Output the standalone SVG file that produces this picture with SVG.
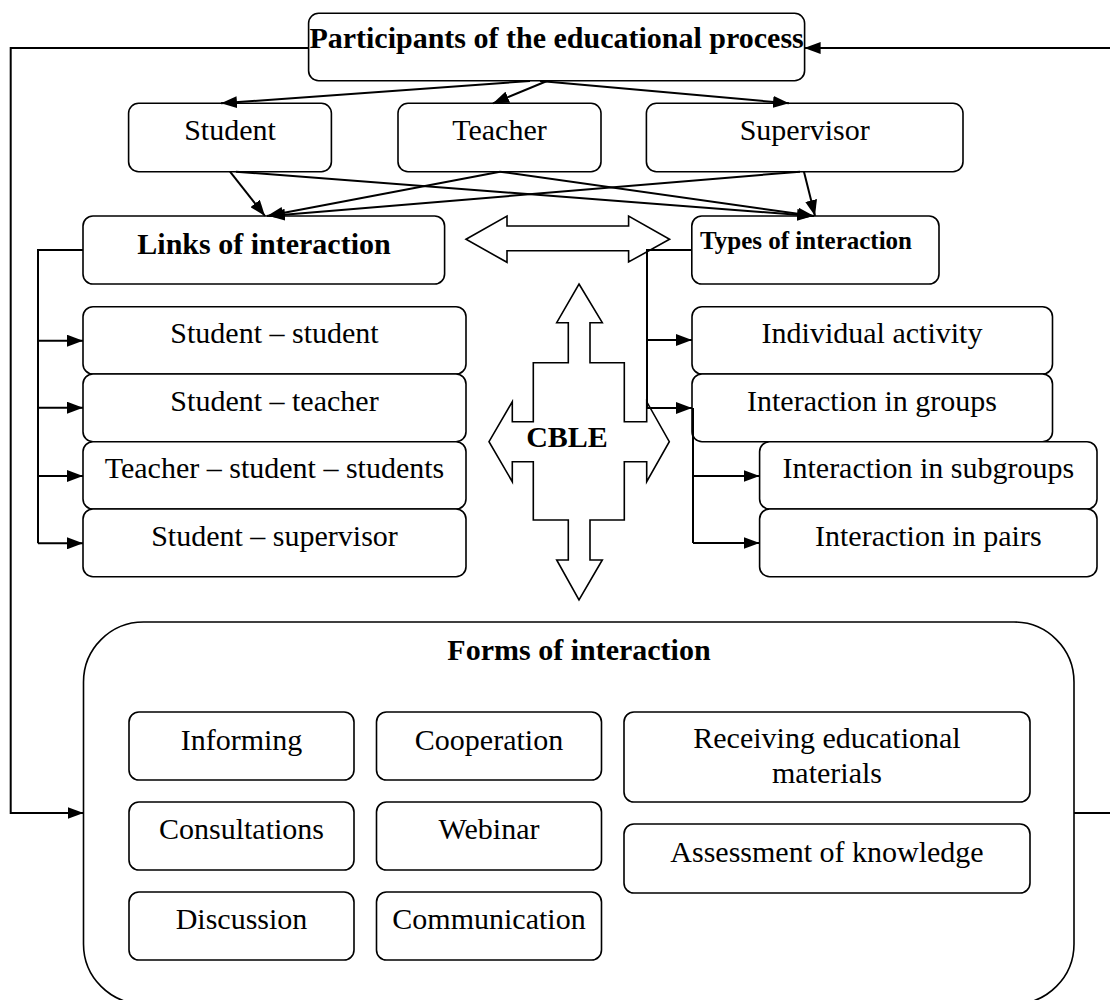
<svg xmlns="http://www.w3.org/2000/svg" width="1110" height="1000" viewBox="0 0 1110 1000">
<style>
.box{fill:#fff;stroke:#000;stroke-width:1.6}
.t{font-family:"Liberation Serif","Times New Roman",serif;font-size:30px;fill:#000;text-anchor:middle}
.b{font-weight:bold}
.ln{fill:none;stroke:#000;stroke-width:2}
.ar{fill:none;stroke:#000;stroke-width:2;marker-end:url(#ah)}
.big{fill:#fff;stroke:#000;stroke-width:1.6;stroke-linejoin:miter}
</style>
<defs>
<marker id="ah" markerWidth="16" markerHeight="12" refX="16" refY="6" orient="auto" markerUnits="userSpaceOnUse">
<path d="M0,0 L16,6 L0,12 z" fill="#000"/>
</marker>
</defs>
<rect width="1110" height="1000" fill="#fff"/>

<g id="forms">
<rect class="box" x="83.5" y="622" width="990.5" height="382" rx="60" ry="60"/>
<text class="t b" x="579" y="660">Forms of interaction</text>
</g>
<g id="informing"><rect class="box" x="129" y="712" width="225" height="68" rx="10"/><text class="t" x="241.5" y="750">Informing</text></g>
<g id="cooperation"><rect class="box" x="376.5" y="712" width="225" height="68" rx="10"/><text class="t" x="489" y="750">Cooperation</text></g>
<g id="receiving"><rect class="box" x="624" y="712" width="406" height="90" rx="10"/><text class="t" x="827" y="748">Receiving educational</text><text class="t" x="827" y="783">materials</text></g>
<g id="consultations"><rect class="box" x="129" y="802" width="225" height="68" rx="10"/><text class="t" x="241.5" y="839">Consultations</text></g>
<g id="webinar"><rect class="box" x="376.5" y="802" width="225" height="68" rx="10"/><text class="t" x="489" y="839">Webinar</text></g>
<g id="assessment"><rect class="box" x="624" y="824" width="406" height="69" rx="10"/><text class="t" x="827" y="862">Assessment of knowledge</text></g>
<g id="discussion"><rect class="box" x="129" y="892" width="225" height="68" rx="10"/><text class="t" x="241.5" y="929">Discussion</text></g>
<g id="communication"><rect class="box" x="376.5" y="892" width="225" height="68" rx="10"/><text class="t" x="489" y="929">Communication</text></g>

<g id="participants"><rect class="box" x="308.6" y="13.3" width="496" height="67.4" rx="10"/><text class="t b" x="556.6" y="48">Participants of the educational process</text></g>
<g id="student"><rect class="box" x="128.6" y="103.3" width="202.8" height="68.4" rx="10"/><text class="t" x="230" y="140">Student</text></g>
<g id="teacher"><rect class="box" x="398" y="103.3" width="203" height="68.4" rx="10"/><text class="t" x="499.5" y="140">Teacher</text></g>
<g id="supervisor"><rect class="box" x="646.4" y="103.3" width="316.6" height="68.4" rx="10"/><text class="t" x="804.7" y="140">Supervisor</text></g>

<g id="links"><rect class="box" x="83" y="216" width="361.6" height="68" rx="10"/><text class="t b" x="264" y="254">Links of interaction</text></g>
<g id="types"><rect class="box" x="691.8" y="216" width="247.2" height="68" rx="10"/><text class="t b" x="700" y="249" style="text-anchor:start;font-size:25px">Types of interaction</text></g>

<g id="ss"><rect class="box" x="83" y="306.7" width="383" height="67.3" rx="10"/><text class="t" x="274.5" y="343">Student – student</text></g>
<g id="st"><rect class="box" x="83" y="374" width="383" height="67.7" rx="10"/><text class="t" x="274.5" y="411">Student – teacher</text></g>
<g id="tss"><rect class="box" x="83" y="441.7" width="383" height="67.3" rx="10"/><text class="t" x="274.5" y="478">Teacher – student – students</text></g>
<g id="ssup"><rect class="box" x="83" y="509" width="383" height="67.7" rx="10"/><text class="t" x="274.5" y="546">Student – supervisor</text></g>

<g id="individual"><rect class="box" x="692" y="306.7" width="360.5" height="67.3" rx="10"/><text class="t" x="872" y="343">Individual activity</text></g>
<g id="groups"><rect class="box" x="692" y="374" width="360.5" height="67.7" rx="10"/><text class="t" x="872" y="411">Interaction in groups</text></g>
<g id="subgroups"><rect class="box" x="759.6" y="441.7" width="337.4" height="67.3" rx="10"/><text class="t" x="928.3" y="478">Interaction in subgroups</text></g>
<g id="pairs"><rect class="box" x="759.6" y="509" width="337.4" height="67.7" rx="10"/><text class="t" x="928.3" y="546">Interaction in pairs</text></g>

<g id="hdouble"><polygon class="big" points="466,239.3 507,216 507,226 628.6,226 628.6,216 669.6,239.3 628.6,262 628.6,250.7 507,250.7 507,262.3"/></g>

<g id="cble">
<polygon class="big" points="579,284 602.3,322.7 590,322.7 590,362.7 624.3,362.7 624.3,421.7 646.7,421.7 646.7,401.7 669.3,441.7 646.7,481.7 646.7,461.7 624.3,461.7 624.3,520 590,520 590,560 602.3,560 579,600 556.7,560 568.3,560 568.3,520 533.3,520 533.3,461.7 512.3,461.7 512.3,481.7 489,441.7 512.3,401.7 512.3,421.7 533.3,421.7 533.3,362.7 568.3,362.7 568.3,322.7 556.7,322.7"/>
<text class="t b" x="567" y="447">CBLE</text>
</g>

<g id="connectors">
<line class="ar" x1="530" y1="81" x2="221" y2="103.3"/>
<line class="ar" x1="547" y1="81" x2="493" y2="103.3"/>
<line class="ar" x1="540" y1="81" x2="789" y2="103.3"/>
<line class="ar" x1="230" y1="171.7" x2="265" y2="216"/>
<line class="ar" x1="236" y1="171.7" x2="813" y2="216"/>
<line class="ar" x1="500" y1="171.7" x2="267" y2="216"/>
<line class="ar" x1="500" y1="171.7" x2="814" y2="216"/>
<line class="ar" x1="800" y1="171.7" x2="269" y2="216"/>
<line class="ar" x1="804" y1="171.7" x2="815" y2="216"/>
<path class="ar" d="M308.6,48 H10.7 V813 H83.5"/>
<path class="ar" d="M1110,48 H804.6"/>
<path class="ln" d="M1074,813 H1110"/>
<path class="ln" d="M83,250 H38 V543.3"/>
<path class="ar" d="M38,340.7 H83"/>
<path class="ar" d="M38,407.7 H83"/>
<path class="ar" d="M38,476 H83"/>
<path class="ar" d="M38,543.3 H83"/>
<path class="ln" d="M692,250 H647 V408"/>
<path class="ar" d="M647,340 H692"/>
<path class="ar" d="M647,408 H692"/>
<path class="ln" d="M693,408 V543"/>
<path class="ar" d="M693,476 H759.6"/>
<path class="ar" d="M693,543 H759.6"/>
</g>
</svg>
